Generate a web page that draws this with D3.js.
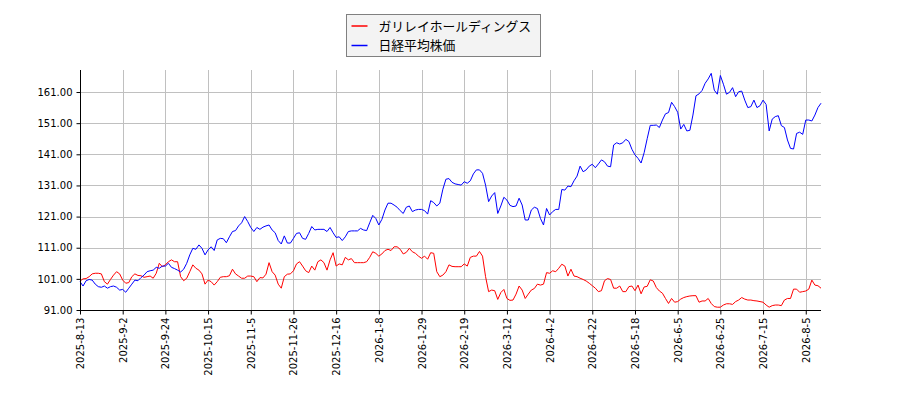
<!DOCTYPE html>
<html>
<head>
<meta charset="utf-8">
<script src="https://cdn.jsdelivr.net/npm/d3@7"></script>
<style>
  body { margin: 0; background: #fff; }
  svg { display: block; }
</style>
</head>
<body>
<div id="display"></div>
<script>
// series names
var seriesNames = ["ガリレイホールディングス", "日経平均株価"];
var seriesColors = ["#ff0000", "#0000ff"];

// x tick labels (one every 14 trading days)
var tickLabels = ["2025-8-13", "2025-9-2", "2025-9-24", "2025-10-15", "2025-11-5", "2025-11-26",
  "2025-12-16", "2026-1-8", "2026-1-29", "2026-2-19", "2026-3-12", "2026-4-2", "2026-4-22",
  "2026-5-18", "2026-6-5", "2026-6-25", "2026-7-15", "2026-8-5"];
var tickIndex = [0, 14, 28, 42, 56, 70, 84, 98, 112, 126, 140, 154, 168, 182, 196, 210, 224, 238];

// y ticks
var yTicks = [91, 101, 111, 121, 131, 141, 151, 161];

// ガリレイホールディングス (relative, start = 100)
var galilei = [
  100.3, 101.0, 101.1, 101.7, 102.6, 102.8, 102.8, 102.6, 100.1, 99.3,
  100.8, 102.2, 103.3, 102.6, 100.6, 99.6, 99.8, 101.7, 102.6, 102.1,
  102.0, 101.5, 101.7, 101.9, 101.2, 102.8, 106.0, 104.9, 105.5, 106.5,
  107.1, 106.5, 106.5, 101.7, 100.4, 101.2, 103.3, 105.5, 104.4, 103.8,
  102.6, 99.3, 100.6, 100.1, 99.0, 100.1, 101.5, 101.7, 101.7, 102.0,
  104.1, 102.6, 101.9, 101.2, 101.2, 101.9, 101.9, 101.7, 100.1, 101.4,
  101.3, 102.5, 106.2, 103.3, 102.2, 99.3, 98.0, 101.7, 102.5, 102.6,
  103.6, 105.8, 106.5, 105.1, 103.6, 103.0, 105.1, 103.8, 106.5, 107.1,
  106.2, 103.8, 107.1, 109.4, 105.1, 105.8, 105.5, 107.9, 107.1, 107.5,
  106.2, 106.2, 106.2, 106.2, 106.5, 107.9, 109.7, 109.2, 108.3, 109.0,
  110.1, 110.5, 110.1, 111.3, 111.3, 110.5, 109.0, 109.5, 110.8, 109.7,
  109.2, 108.3, 107.6, 108.3, 107.3, 109.4, 109.2, 103.3, 101.7, 102.2,
  103.3, 105.5, 105.0, 104.9, 104.9, 104.9, 105.8, 105.1, 107.9, 108.3,
  108.3, 109.8, 108.3, 101.7, 96.9, 97.4, 97.2, 94.4, 96.6, 97.6,
  94.7, 94.1, 94.2, 96.1, 98.7, 97.4, 94.7, 96.1, 97.4, 97.9,
  99.3, 99.0, 99.3, 103.0, 102.8, 103.6, 103.3, 104.4, 105.7, 105.1,
  101.9, 104.1, 101.9, 101.7, 101.2, 100.8, 100.3, 99.6, 98.8, 98.0,
  96.9, 97.2, 100.4, 101.1, 100.8, 98.0, 98.0, 98.7, 96.9, 96.9,
  98.5, 98.7, 97.2, 99.0, 96.2, 98.4, 98.6, 100.7, 100.3, 98.2,
  97.1, 96.4, 94.7, 93.1, 94.7, 93.5, 93.7, 94.5, 95.0, 95.3,
  95.5, 95.6, 95.6, 93.5, 93.9, 93.9, 94.7, 93.1, 92.1, 91.9,
  91.9, 92.6, 93.0, 93.0, 92.8, 93.7, 94.2, 95.0, 94.5, 94.2,
  94.2, 94.0, 93.9, 93.7, 93.5, 92.6, 91.9, 92.4, 92.6, 92.6,
  92.4, 94.2, 94.7, 94.7, 97.7, 97.7, 96.7, 96.9, 97.1, 97.7,
  100.6, 99.0, 98.8, 98.0
];

// 日経平均株価 (relative, start = 100)
var nikkei = [
  100.1, 98.7, 100.4, 100.8, 100.6, 99.3, 98.5, 98.3, 98.7, 98.0,
  98.5, 98.7, 98.3, 97.4, 97.6, 96.7, 98.0, 99.3, 100.6, 100.4,
  101.4, 102.2, 103.3, 103.6, 103.8, 104.7, 104.4, 105.1, 105.1, 106.0,
  104.7, 104.3, 103.8, 103.2, 104.1, 106.0, 108.7, 110.8, 110.5, 111.9,
  110.8, 108.7, 110.3, 111.3, 110.1, 113.5, 114.0, 113.9, 112.6, 114.5,
  116.2, 116.5, 118.0, 119.0, 121.0, 119.4, 117.5, 116.2, 117.5, 116.9,
  117.6, 118.0, 118.3, 116.7, 115.8, 113.3, 112.2, 114.8, 112.5, 112.5,
  114.0, 115.6, 115.8, 114.0, 113.7, 115.6, 117.8, 116.7, 116.9, 116.9,
  116.9, 116.2, 117.5, 115.8, 114.3, 114.5, 113.3, 114.5, 116.2, 116.4,
  116.4, 116.4, 117.2, 116.7, 116.5, 119.0, 121.4, 120.4, 118.3, 120.1,
  123.1, 125.3, 125.3, 124.7, 124.0, 122.9, 122.0, 124.0, 124.4, 122.6,
  123.1, 123.3, 123.3, 122.9, 121.8, 126.1, 125.5, 124.4, 125.3, 129.8,
  133.0, 133.2, 132.0, 131.5, 131.3, 131.1, 132.2, 131.7, 132.5, 134.7,
  136.0, 136.0, 134.9, 131.1, 125.8, 127.6, 128.7, 122.0, 124.4, 127.2,
  126.3, 124.6, 124.2, 124.4, 126.9, 124.7, 119.9, 119.9, 123.1, 124.0,
  123.6, 120.4, 118.3, 123.6, 121.5, 122.6, 123.3, 123.3, 129.7, 129.5,
  130.8, 130.6, 132.5, 134.0, 137.2, 135.4, 136.0, 137.2, 137.8, 136.7,
  137.9, 139.2, 138.6, 137.2, 137.0, 144.0, 144.7, 144.3, 144.7, 145.8,
  145.1, 142.6, 140.8, 139.7, 138.2, 141.5, 146.0, 150.3, 150.3, 150.4,
  149.6, 152.0, 154.0, 154.4, 157.7, 156.3, 154.5, 149.1, 150.6, 148.5,
  148.7, 153.6, 159.8, 160.4, 161.5, 163.8, 165.2, 167.0, 161.6, 160.3,
  166.3, 163.5, 160.3, 160.9, 162.4, 159.5, 161.1, 161.3, 158.4, 156.0,
  156.3, 158.4, 156.0, 156.6, 158.4, 157.0, 148.5, 152.3, 153.1, 153.4,
  150.2, 149.6, 145.6, 142.9, 142.7, 147.7, 148.1, 147.4, 152.0, 152.0,
  151.7, 153.6, 156.0, 157.4
];

var width = 900, height = 400;
var margin = {left: 80, right: 79, top: 70, bottom: 90};

var x = d3.scaleLinear()
    .domain([0, galilei.length - 1])
    .range([margin.left, width - margin.right]);

var y = d3.scaleLinear()
    .domain([91, 168.07])
    .range([height - margin.bottom, margin.top]);

var svg = d3.select("#display")
    .append("svg")
    .attr("width", width)
    .attr("height", height);

// grid
svg.append("g")
    .attr("stroke", "#c0c0c0")
    .attr("stroke-width", 1)
  .selectAll("line.v")
  .data(tickIndex)
  .join("line")
    .attr("x1", d => Math.round(x(d)) + 0.5)
    .attr("x2", d => Math.round(x(d)) + 0.5)
    .attr("y1", margin.top)
    .attr("y2", height - margin.bottom);

svg.append("g")
    .attr("stroke", "#c0c0c0")
    .attr("stroke-width", 1)
  .selectAll("line.h")
  .data(yTicks)
  .join("line")
    .attr("x1", margin.left)
    .attr("x2", width - margin.right)
    .attr("y1", d => Math.round(y(d)) + 0.5)
    .attr("y2", d => Math.round(y(d)) + 0.5);

// lines
var line = d3.line()
    .x((d, i) => x(i))
    .y(d => y(d));

[galilei, nikkei].forEach(function(series, k) {
  svg.append("path")
      .datum(series)
      .attr("fill", "none")
      .attr("stroke", seriesColors[k])
      .attr("stroke-width", 1)
      .attr("stroke-linejoin", "round")
      .attr("d", line);
});

// axes
var yAxis = d3.axisLeft(y)
    .tickValues(yTicks)
    .tickFormat(d3.format(".2f"))
    .tickSize(4)
    .tickPadding(4);

var xAxis = d3.axisBottom(x)
    .tickValues(tickIndex)
    .tickFormat((d, i) => tickLabels[i])
    .tickSize(4)
    .tickPadding(3);

var gy = svg.append("g")
    .attr("transform", "translate(" + (margin.left + 0.5) + ",0)")
    .call(yAxis);

var gx = svg.append("g")
    .attr("transform", "translate(0," + (height - margin.bottom + 0.5) + ")")
    .call(xAxis);

[gx, gy].forEach(function(g) {
  g.select(".domain").attr("stroke", "#000").attr("stroke-width", 1);
  g.selectAll(".tick line").attr("stroke", "#000");
  g.selectAll("text")
      .attr("fill", "#000")
      .style("font", "10px 'DejaVu Sans'");
});
gy.select(".domain").attr("d", "M0," + margin.top + "V" + (height - margin.bottom));
gx.select(".domain").attr("d", "M" + margin.left + ",0H" + (width - margin.right));

gx.selectAll(".tick text")
    .attr("transform", "rotate(-90)")
    .attr("text-anchor", "end")
    .attr("x", -7)
    .attr("y", 0)
    .attr("dy", "0.35em");

// legend
var legend = svg.append("g").attr("transform", "translate(346.5,14.5)");
legend.append("rect")
    .attr("width", 194)
    .attr("height", 42)
    .attr("fill", "#f3f3f3")
    .attr("stroke", "#808080")
    .attr("stroke-width", 1);

seriesNames.forEach(function(name, k) {
  var ly = 11.5 + k * 19.5;
  legend.append("line")
      .attr("x1", 5).attr("x2", 21)
      .attr("y1", ly).attr("y2", ly)
      .attr("stroke", seriesColors[k])
      .attr("stroke-width", 1.5);
  legend.append("text")
      .attr("x", 32)
      .attr("y", ly)
      .attr("dy", "0.36em")
      .attr("fill", "#000")
      .style("font", "12.8px 'Noto Sans CJK JP'")
      .text(name);
});
</script>
</body>
</html>
